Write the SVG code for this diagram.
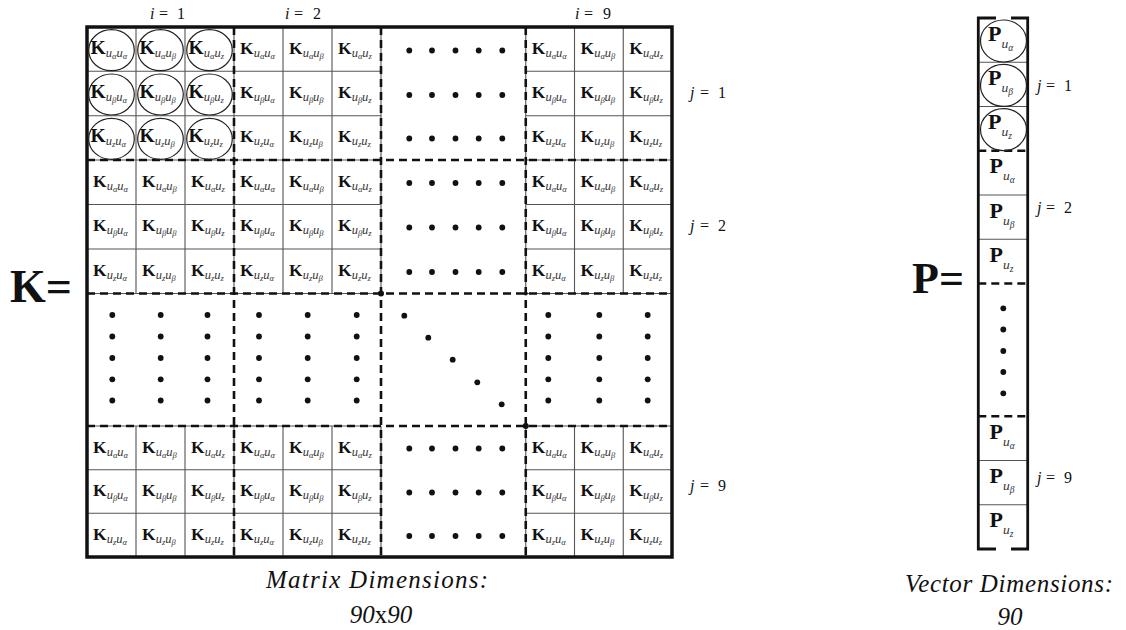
<svg xmlns="http://www.w3.org/2000/svg" width="1126" height="630" viewBox="0 0 1126 630">
<style>
.g{fill:none;stroke:#555;stroke-width:1.1}
.d{fill:none;stroke:#111;stroke-width:2.6;stroke-dasharray:8 5}
.b{fill:none;stroke:#111;stroke-width:3.5}
.e{fill:none;stroke:#222;stroke-width:1.2}
.dot{fill:#111}
text{font-family:"Liberation Serif","Times New Roman",serif;fill:#111}
.k{font-weight:bold;font-size:17.5px}
.kc{font-size:19.5px}
.s{font-style:italic;font-weight:normal;font-size:12.5px;fill:#333}
.t{font-style:italic;font-weight:normal;font-size:8.5px;fill:#333}
.p{font-weight:bold;font-size:22px}
.ps{font-style:italic;font-weight:normal;font-size:13.5px;fill:#333}
.pt{font-style:italic;font-weight:normal;font-size:9.5px;fill:#333}
.m{font-size:16px}
.it{font-style:italic}
.big{font-weight:bold;font-size:46px}
.cap{font-style:italic;font-size:25px}
</style>
<rect width="1126" height="630" fill="#fff"/>

<g id="matrix-K">
<g id="matrix-grid">
<path class="g" d="M136 27V293.5M185 27V293.5M234 27V293.5M283 27V293.5M332 27V293.5M381 27V293.5M525.75 27V293.5M574.5 27V293.5M623.25 27V293.5M136 426V557M185 426V557M234 426V557M283 426V557M332 426V557M381 426V557M525.75 426V557M574.5 426V557M623.25 426V557"/>
<path class="g" d="M87 71.3H381M87 115.7H381M87 160H381M87 204.5H381M87 249H381M87 293.5H381M87 426H381M87 469.7H381M87 513.3H381M525.75 71.3H672M525.75 115.7H672M525.75 160H672M525.75 204.5H672M525.75 249H672M525.75 293.5H672M525.75 426H672M525.75 469.7H672M525.75 513.3H672"/>
<path class="d" d="M234 27V557M381 27V557M525.75 27V557M87 160H672M87 293.5H672M87 426H672"/>
<rect class="b" x="87" y="27" width="585" height="530"/>
<circle class="dot" cx="381" cy="293.5" r="3"/>
<circle class="dot" cx="525.75" cy="293.5" r="2"/>
<circle class="dot" cx="525.75" cy="426" r="3"/>
</g>

<g id="highlight-ellipses">
<ellipse class="e" cx="111.5" cy="50.2" rx="22.8" ry="20.5"/>
<ellipse class="e" cx="160.5" cy="50.2" rx="22.8" ry="20.5"/>
<ellipse class="e" cx="209.5" cy="50.2" rx="22.8" ry="20.5"/>
<ellipse class="e" cx="111.5" cy="94.5" rx="22.8" ry="20.5"/>
<ellipse class="e" cx="160.5" cy="94.5" rx="22.8" ry="20.5"/>
<ellipse class="e" cx="209.5" cy="94.5" rx="22.8" ry="20.5"/>
<ellipse class="e" cx="111.5" cy="138.9" rx="22.8" ry="20.5"/>
<ellipse class="e" cx="160.5" cy="138.9" rx="22.8" ry="20.5"/>
<ellipse class="e" cx="209.5" cy="138.9" rx="22.8" ry="20.5"/>
</g>

<g id="block-i1-j1">
<text class="k kc" x="90.5" y="53.5">K<tspan class="s" dy="3">u</tspan><tspan class="t" dy="2">α</tspan><tspan class="s" dy="-2">u</tspan><tspan class="t" dy="2">α</tspan></text>
<text class="k kc" x="139.5" y="53.5">K<tspan class="s" dy="3">u</tspan><tspan class="t" dy="2">α</tspan><tspan class="s" dy="-2">u</tspan><tspan class="t" dy="2">β</tspan></text>
<text class="k kc" x="188.5" y="53.5">K<tspan class="s" dy="3">u</tspan><tspan class="t" dy="2">α</tspan><tspan class="s" dy="-2">u</tspan><tspan class="t" dy="2">z</tspan></text>
<text class="k kc" x="90.5" y="97.8">K<tspan class="s" dy="3">u</tspan><tspan class="t" dy="2">β</tspan><tspan class="s" dy="-2">u</tspan><tspan class="t" dy="2">α</tspan></text>
<text class="k kc" x="139.5" y="97.8">K<tspan class="s" dy="3">u</tspan><tspan class="t" dy="2">β</tspan><tspan class="s" dy="-2">u</tspan><tspan class="t" dy="2">β</tspan></text>
<text class="k kc" x="188.5" y="97.8">K<tspan class="s" dy="3">u</tspan><tspan class="t" dy="2">β</tspan><tspan class="s" dy="-2">u</tspan><tspan class="t" dy="2">z</tspan></text>
<text class="k kc" x="90.5" y="142.2">K<tspan class="s" dy="3">u</tspan><tspan class="t" dy="2">z</tspan><tspan class="s" dy="-2">u</tspan><tspan class="t" dy="2">α</tspan></text>
<text class="k kc" x="139.5" y="142.2">K<tspan class="s" dy="3">u</tspan><tspan class="t" dy="2">z</tspan><tspan class="s" dy="-2">u</tspan><tspan class="t" dy="2">β</tspan></text>
<text class="k kc" x="188.5" y="142.2">K<tspan class="s" dy="3">u</tspan><tspan class="t" dy="2">z</tspan><tspan class="s" dy="-2">u</tspan><tspan class="t" dy="2">z</tspan></text>
</g>

<g id="block-i2-j1">
<text class="k" x="240" y="53.5">K<tspan class="s" dy="3">u</tspan><tspan class="t" dy="2">α</tspan><tspan class="s" dy="-2">u</tspan><tspan class="t" dy="2">α</tspan></text>
<text class="k" x="289" y="53.5">K<tspan class="s" dy="3">u</tspan><tspan class="t" dy="2">α</tspan><tspan class="s" dy="-2">u</tspan><tspan class="t" dy="2">β</tspan></text>
<text class="k" x="338" y="53.5">K<tspan class="s" dy="3">u</tspan><tspan class="t" dy="2">α</tspan><tspan class="s" dy="-2">u</tspan><tspan class="t" dy="2">z</tspan></text>
<text class="k" x="240" y="97.8">K<tspan class="s" dy="3">u</tspan><tspan class="t" dy="2">β</tspan><tspan class="s" dy="-2">u</tspan><tspan class="t" dy="2">α</tspan></text>
<text class="k" x="289" y="97.8">K<tspan class="s" dy="3">u</tspan><tspan class="t" dy="2">β</tspan><tspan class="s" dy="-2">u</tspan><tspan class="t" dy="2">β</tspan></text>
<text class="k" x="338" y="97.8">K<tspan class="s" dy="3">u</tspan><tspan class="t" dy="2">β</tspan><tspan class="s" dy="-2">u</tspan><tspan class="t" dy="2">z</tspan></text>
<text class="k" x="240" y="142.2">K<tspan class="s" dy="3">u</tspan><tspan class="t" dy="2">z</tspan><tspan class="s" dy="-2">u</tspan><tspan class="t" dy="2">α</tspan></text>
<text class="k" x="289" y="142.2">K<tspan class="s" dy="3">u</tspan><tspan class="t" dy="2">z</tspan><tspan class="s" dy="-2">u</tspan><tspan class="t" dy="2">β</tspan></text>
<text class="k" x="338" y="142.2">K<tspan class="s" dy="3">u</tspan><tspan class="t" dy="2">z</tspan><tspan class="s" dy="-2">u</tspan><tspan class="t" dy="2">z</tspan></text>
</g>

<g id="block-i9-j1">
<text class="k" x="531.75" y="53.5">K<tspan class="s" dy="3">u</tspan><tspan class="t" dy="2">α</tspan><tspan class="s" dy="-2">u</tspan><tspan class="t" dy="2">α</tspan></text>
<text class="k" x="580.5" y="53.5">K<tspan class="s" dy="3">u</tspan><tspan class="t" dy="2">α</tspan><tspan class="s" dy="-2">u</tspan><tspan class="t" dy="2">β</tspan></text>
<text class="k" x="629.25" y="53.5">K<tspan class="s" dy="3">u</tspan><tspan class="t" dy="2">α</tspan><tspan class="s" dy="-2">u</tspan><tspan class="t" dy="2">z</tspan></text>
<text class="k" x="531.75" y="97.8">K<tspan class="s" dy="3">u</tspan><tspan class="t" dy="2">β</tspan><tspan class="s" dy="-2">u</tspan><tspan class="t" dy="2">α</tspan></text>
<text class="k" x="580.5" y="97.8">K<tspan class="s" dy="3">u</tspan><tspan class="t" dy="2">β</tspan><tspan class="s" dy="-2">u</tspan><tspan class="t" dy="2">β</tspan></text>
<text class="k" x="629.25" y="97.8">K<tspan class="s" dy="3">u</tspan><tspan class="t" dy="2">β</tspan><tspan class="s" dy="-2">u</tspan><tspan class="t" dy="2">z</tspan></text>
<text class="k" x="531.75" y="142.2">K<tspan class="s" dy="3">u</tspan><tspan class="t" dy="2">z</tspan><tspan class="s" dy="-2">u</tspan><tspan class="t" dy="2">α</tspan></text>
<text class="k" x="580.5" y="142.2">K<tspan class="s" dy="3">u</tspan><tspan class="t" dy="2">z</tspan><tspan class="s" dy="-2">u</tspan><tspan class="t" dy="2">β</tspan></text>
<text class="k" x="629.25" y="142.2">K<tspan class="s" dy="3">u</tspan><tspan class="t" dy="2">z</tspan><tspan class="s" dy="-2">u</tspan><tspan class="t" dy="2">z</tspan></text>
</g>

<g id="block-i1-j2">
<text class="k" x="93" y="186.5">K<tspan class="s" dy="3">u</tspan><tspan class="t" dy="2">α</tspan><tspan class="s" dy="-2">u</tspan><tspan class="t" dy="2">α</tspan></text>
<text class="k" x="142" y="186.5">K<tspan class="s" dy="3">u</tspan><tspan class="t" dy="2">α</tspan><tspan class="s" dy="-2">u</tspan><tspan class="t" dy="2">β</tspan></text>
<text class="k" x="191" y="186.5">K<tspan class="s" dy="3">u</tspan><tspan class="t" dy="2">α</tspan><tspan class="s" dy="-2">u</tspan><tspan class="t" dy="2">z</tspan></text>
<text class="k" x="93" y="231">K<tspan class="s" dy="3">u</tspan><tspan class="t" dy="2">β</tspan><tspan class="s" dy="-2">u</tspan><tspan class="t" dy="2">α</tspan></text>
<text class="k" x="142" y="231">K<tspan class="s" dy="3">u</tspan><tspan class="t" dy="2">β</tspan><tspan class="s" dy="-2">u</tspan><tspan class="t" dy="2">β</tspan></text>
<text class="k" x="191" y="231">K<tspan class="s" dy="3">u</tspan><tspan class="t" dy="2">β</tspan><tspan class="s" dy="-2">u</tspan><tspan class="t" dy="2">z</tspan></text>
<text class="k" x="93" y="275.5">K<tspan class="s" dy="3">u</tspan><tspan class="t" dy="2">z</tspan><tspan class="s" dy="-2">u</tspan><tspan class="t" dy="2">α</tspan></text>
<text class="k" x="142" y="275.5">K<tspan class="s" dy="3">u</tspan><tspan class="t" dy="2">z</tspan><tspan class="s" dy="-2">u</tspan><tspan class="t" dy="2">β</tspan></text>
<text class="k" x="191" y="275.5">K<tspan class="s" dy="3">u</tspan><tspan class="t" dy="2">z</tspan><tspan class="s" dy="-2">u</tspan><tspan class="t" dy="2">z</tspan></text>
</g>

<g id="block-i2-j2">
<text class="k" x="240" y="186.5">K<tspan class="s" dy="3">u</tspan><tspan class="t" dy="2">α</tspan><tspan class="s" dy="-2">u</tspan><tspan class="t" dy="2">α</tspan></text>
<text class="k" x="289" y="186.5">K<tspan class="s" dy="3">u</tspan><tspan class="t" dy="2">α</tspan><tspan class="s" dy="-2">u</tspan><tspan class="t" dy="2">β</tspan></text>
<text class="k" x="338" y="186.5">K<tspan class="s" dy="3">u</tspan><tspan class="t" dy="2">α</tspan><tspan class="s" dy="-2">u</tspan><tspan class="t" dy="2">z</tspan></text>
<text class="k" x="240" y="231">K<tspan class="s" dy="3">u</tspan><tspan class="t" dy="2">β</tspan><tspan class="s" dy="-2">u</tspan><tspan class="t" dy="2">α</tspan></text>
<text class="k" x="289" y="231">K<tspan class="s" dy="3">u</tspan><tspan class="t" dy="2">β</tspan><tspan class="s" dy="-2">u</tspan><tspan class="t" dy="2">β</tspan></text>
<text class="k" x="338" y="231">K<tspan class="s" dy="3">u</tspan><tspan class="t" dy="2">β</tspan><tspan class="s" dy="-2">u</tspan><tspan class="t" dy="2">z</tspan></text>
<text class="k" x="240" y="275.5">K<tspan class="s" dy="3">u</tspan><tspan class="t" dy="2">z</tspan><tspan class="s" dy="-2">u</tspan><tspan class="t" dy="2">α</tspan></text>
<text class="k" x="289" y="275.5">K<tspan class="s" dy="3">u</tspan><tspan class="t" dy="2">z</tspan><tspan class="s" dy="-2">u</tspan><tspan class="t" dy="2">β</tspan></text>
<text class="k" x="338" y="275.5">K<tspan class="s" dy="3">u</tspan><tspan class="t" dy="2">z</tspan><tspan class="s" dy="-2">u</tspan><tspan class="t" dy="2">z</tspan></text>
</g>

<g id="block-i9-j2">
<text class="k" x="531.75" y="186.5">K<tspan class="s" dy="3">u</tspan><tspan class="t" dy="2">α</tspan><tspan class="s" dy="-2">u</tspan><tspan class="t" dy="2">α</tspan></text>
<text class="k" x="580.5" y="186.5">K<tspan class="s" dy="3">u</tspan><tspan class="t" dy="2">α</tspan><tspan class="s" dy="-2">u</tspan><tspan class="t" dy="2">β</tspan></text>
<text class="k" x="629.25" y="186.5">K<tspan class="s" dy="3">u</tspan><tspan class="t" dy="2">α</tspan><tspan class="s" dy="-2">u</tspan><tspan class="t" dy="2">z</tspan></text>
<text class="k" x="531.75" y="231">K<tspan class="s" dy="3">u</tspan><tspan class="t" dy="2">β</tspan><tspan class="s" dy="-2">u</tspan><tspan class="t" dy="2">α</tspan></text>
<text class="k" x="580.5" y="231">K<tspan class="s" dy="3">u</tspan><tspan class="t" dy="2">β</tspan><tspan class="s" dy="-2">u</tspan><tspan class="t" dy="2">β</tspan></text>
<text class="k" x="629.25" y="231">K<tspan class="s" dy="3">u</tspan><tspan class="t" dy="2">β</tspan><tspan class="s" dy="-2">u</tspan><tspan class="t" dy="2">z</tspan></text>
<text class="k" x="531.75" y="275.5">K<tspan class="s" dy="3">u</tspan><tspan class="t" dy="2">z</tspan><tspan class="s" dy="-2">u</tspan><tspan class="t" dy="2">α</tspan></text>
<text class="k" x="580.5" y="275.5">K<tspan class="s" dy="3">u</tspan><tspan class="t" dy="2">z</tspan><tspan class="s" dy="-2">u</tspan><tspan class="t" dy="2">β</tspan></text>
<text class="k" x="629.25" y="275.5">K<tspan class="s" dy="3">u</tspan><tspan class="t" dy="2">z</tspan><tspan class="s" dy="-2">u</tspan><tspan class="t" dy="2">z</tspan></text>
</g>

<g id="block-i1-j9">
<text class="k" x="93" y="452.5">K<tspan class="s" dy="3">u</tspan><tspan class="t" dy="2">α</tspan><tspan class="s" dy="-2">u</tspan><tspan class="t" dy="2">α</tspan></text>
<text class="k" x="142" y="452.5">K<tspan class="s" dy="3">u</tspan><tspan class="t" dy="2">α</tspan><tspan class="s" dy="-2">u</tspan><tspan class="t" dy="2">β</tspan></text>
<text class="k" x="191" y="452.5">K<tspan class="s" dy="3">u</tspan><tspan class="t" dy="2">α</tspan><tspan class="s" dy="-2">u</tspan><tspan class="t" dy="2">z</tspan></text>
<text class="k" x="93" y="496.2">K<tspan class="s" dy="3">u</tspan><tspan class="t" dy="2">β</tspan><tspan class="s" dy="-2">u</tspan><tspan class="t" dy="2">α</tspan></text>
<text class="k" x="142" y="496.2">K<tspan class="s" dy="3">u</tspan><tspan class="t" dy="2">β</tspan><tspan class="s" dy="-2">u</tspan><tspan class="t" dy="2">β</tspan></text>
<text class="k" x="191" y="496.2">K<tspan class="s" dy="3">u</tspan><tspan class="t" dy="2">β</tspan><tspan class="s" dy="-2">u</tspan><tspan class="t" dy="2">z</tspan></text>
<text class="k" x="93" y="539.8">K<tspan class="s" dy="3">u</tspan><tspan class="t" dy="2">z</tspan><tspan class="s" dy="-2">u</tspan><tspan class="t" dy="2">α</tspan></text>
<text class="k" x="142" y="539.8">K<tspan class="s" dy="3">u</tspan><tspan class="t" dy="2">z</tspan><tspan class="s" dy="-2">u</tspan><tspan class="t" dy="2">β</tspan></text>
<text class="k" x="191" y="539.8">K<tspan class="s" dy="3">u</tspan><tspan class="t" dy="2">z</tspan><tspan class="s" dy="-2">u</tspan><tspan class="t" dy="2">z</tspan></text>
</g>

<g id="block-i2-j9">
<text class="k" x="240" y="452.5">K<tspan class="s" dy="3">u</tspan><tspan class="t" dy="2">α</tspan><tspan class="s" dy="-2">u</tspan><tspan class="t" dy="2">α</tspan></text>
<text class="k" x="289" y="452.5">K<tspan class="s" dy="3">u</tspan><tspan class="t" dy="2">α</tspan><tspan class="s" dy="-2">u</tspan><tspan class="t" dy="2">β</tspan></text>
<text class="k" x="338" y="452.5">K<tspan class="s" dy="3">u</tspan><tspan class="t" dy="2">α</tspan><tspan class="s" dy="-2">u</tspan><tspan class="t" dy="2">z</tspan></text>
<text class="k" x="240" y="496.2">K<tspan class="s" dy="3">u</tspan><tspan class="t" dy="2">β</tspan><tspan class="s" dy="-2">u</tspan><tspan class="t" dy="2">α</tspan></text>
<text class="k" x="289" y="496.2">K<tspan class="s" dy="3">u</tspan><tspan class="t" dy="2">β</tspan><tspan class="s" dy="-2">u</tspan><tspan class="t" dy="2">β</tspan></text>
<text class="k" x="338" y="496.2">K<tspan class="s" dy="3">u</tspan><tspan class="t" dy="2">β</tspan><tspan class="s" dy="-2">u</tspan><tspan class="t" dy="2">z</tspan></text>
<text class="k" x="240" y="539.8">K<tspan class="s" dy="3">u</tspan><tspan class="t" dy="2">z</tspan><tspan class="s" dy="-2">u</tspan><tspan class="t" dy="2">α</tspan></text>
<text class="k" x="289" y="539.8">K<tspan class="s" dy="3">u</tspan><tspan class="t" dy="2">z</tspan><tspan class="s" dy="-2">u</tspan><tspan class="t" dy="2">β</tspan></text>
<text class="k" x="338" y="539.8">K<tspan class="s" dy="3">u</tspan><tspan class="t" dy="2">z</tspan><tspan class="s" dy="-2">u</tspan><tspan class="t" dy="2">z</tspan></text>
</g>

<g id="block-i9-j9">
<text class="k" x="531.75" y="452.5">K<tspan class="s" dy="3">u</tspan><tspan class="t" dy="2">α</tspan><tspan class="s" dy="-2">u</tspan><tspan class="t" dy="2">α</tspan></text>
<text class="k" x="580.5" y="452.5">K<tspan class="s" dy="3">u</tspan><tspan class="t" dy="2">α</tspan><tspan class="s" dy="-2">u</tspan><tspan class="t" dy="2">β</tspan></text>
<text class="k" x="629.25" y="452.5">K<tspan class="s" dy="3">u</tspan><tspan class="t" dy="2">α</tspan><tspan class="s" dy="-2">u</tspan><tspan class="t" dy="2">z</tspan></text>
<text class="k" x="531.75" y="496.2">K<tspan class="s" dy="3">u</tspan><tspan class="t" dy="2">β</tspan><tspan class="s" dy="-2">u</tspan><tspan class="t" dy="2">α</tspan></text>
<text class="k" x="580.5" y="496.2">K<tspan class="s" dy="3">u</tspan><tspan class="t" dy="2">β</tspan><tspan class="s" dy="-2">u</tspan><tspan class="t" dy="2">β</tspan></text>
<text class="k" x="629.25" y="496.2">K<tspan class="s" dy="3">u</tspan><tspan class="t" dy="2">β</tspan><tspan class="s" dy="-2">u</tspan><tspan class="t" dy="2">z</tspan></text>
<text class="k" x="531.75" y="539.8">K<tspan class="s" dy="3">u</tspan><tspan class="t" dy="2">z</tspan><tspan class="s" dy="-2">u</tspan><tspan class="t" dy="2">α</tspan></text>
<text class="k" x="580.5" y="539.8">K<tspan class="s" dy="3">u</tspan><tspan class="t" dy="2">z</tspan><tspan class="s" dy="-2">u</tspan><tspan class="t" dy="2">β</tspan></text>
<text class="k" x="629.25" y="539.8">K<tspan class="s" dy="3">u</tspan><tspan class="t" dy="2">z</tspan><tspan class="s" dy="-2">u</tspan><tspan class="t" dy="2">z</tspan></text>
</g>

<g id="ellipsis-dots" class="dot">
<circle cx="409.3" cy="50.5" r="2.9"/><circle cx="432" cy="50.5" r="2.9"/><circle cx="455.5" cy="50.5" r="2.9"/><circle cx="478.7" cy="50.5" r="2.9"/><circle cx="502.3" cy="50.5" r="2.9"/>
<circle cx="409.3" cy="95" r="2.9"/><circle cx="432" cy="95" r="2.9"/><circle cx="455.5" cy="95" r="2.9"/><circle cx="478.7" cy="95" r="2.9"/><circle cx="502.3" cy="95" r="2.9"/>
<circle cx="409.3" cy="138.5" r="2.9"/><circle cx="432" cy="138.5" r="2.9"/><circle cx="455.5" cy="138.5" r="2.9"/><circle cx="478.7" cy="138.5" r="2.9"/><circle cx="502.3" cy="138.5" r="2.9"/>
<circle cx="409.3" cy="183" r="2.9"/><circle cx="432" cy="183" r="2.9"/><circle cx="455.5" cy="183" r="2.9"/><circle cx="478.7" cy="183" r="2.9"/><circle cx="502.3" cy="183" r="2.9"/>
<circle cx="409.3" cy="227.5" r="2.9"/><circle cx="432" cy="227.5" r="2.9"/><circle cx="455.5" cy="227.5" r="2.9"/><circle cx="478.7" cy="227.5" r="2.9"/><circle cx="502.3" cy="227.5" r="2.9"/>
<circle cx="409.3" cy="272" r="2.9"/><circle cx="432" cy="272" r="2.9"/><circle cx="455.5" cy="272" r="2.9"/><circle cx="478.7" cy="272" r="2.9"/><circle cx="502.3" cy="272" r="2.9"/>
<circle cx="409.3" cy="448.5" r="2.9"/><circle cx="432" cy="448.5" r="2.9"/><circle cx="455.5" cy="448.5" r="2.9"/><circle cx="478.7" cy="448.5" r="2.9"/><circle cx="502.3" cy="448.5" r="2.9"/>
<circle cx="409.3" cy="492.5" r="2.9"/><circle cx="432" cy="492.5" r="2.9"/><circle cx="455.5" cy="492.5" r="2.9"/><circle cx="478.7" cy="492.5" r="2.9"/><circle cx="502.3" cy="492.5" r="2.9"/>
<circle cx="409.3" cy="536" r="2.9"/><circle cx="432" cy="536" r="2.9"/><circle cx="455.5" cy="536" r="2.9"/><circle cx="478.7" cy="536" r="2.9"/><circle cx="502.3" cy="536" r="2.9"/>
<circle cx="112.3" cy="315" r="2.9"/><circle cx="112.3" cy="336.5" r="2.9"/><circle cx="112.3" cy="358" r="2.9"/><circle cx="112.3" cy="379.3" r="2.9"/><circle cx="112.3" cy="400.5" r="2.9"/>
<circle cx="160.7" cy="315" r="2.9"/><circle cx="160.7" cy="336.5" r="2.9"/><circle cx="160.7" cy="358" r="2.9"/><circle cx="160.7" cy="379.3" r="2.9"/><circle cx="160.7" cy="400.5" r="2.9"/>
<circle cx="207.5" cy="315" r="2.9"/><circle cx="207.5" cy="336.5" r="2.9"/><circle cx="207.5" cy="358" r="2.9"/><circle cx="207.5" cy="379.3" r="2.9"/><circle cx="207.5" cy="400.5" r="2.9"/>
<circle cx="259" cy="315" r="2.9"/><circle cx="259" cy="336.5" r="2.9"/><circle cx="259" cy="358" r="2.9"/><circle cx="259" cy="379.3" r="2.9"/><circle cx="259" cy="400.5" r="2.9"/>
<circle cx="307.7" cy="315" r="2.9"/><circle cx="307.7" cy="336.5" r="2.9"/><circle cx="307.7" cy="358" r="2.9"/><circle cx="307.7" cy="379.3" r="2.9"/><circle cx="307.7" cy="400.5" r="2.9"/>
<circle cx="356.7" cy="315" r="2.9"/><circle cx="356.7" cy="336.5" r="2.9"/><circle cx="356.7" cy="358" r="2.9"/><circle cx="356.7" cy="379.3" r="2.9"/><circle cx="356.7" cy="400.5" r="2.9"/>
<circle cx="548.3" cy="315" r="2.9"/><circle cx="548.3" cy="336.5" r="2.9"/><circle cx="548.3" cy="358" r="2.9"/><circle cx="548.3" cy="379.3" r="2.9"/><circle cx="548.3" cy="400.5" r="2.9"/>
<circle cx="599.3" cy="315" r="2.9"/><circle cx="599.3" cy="336.5" r="2.9"/><circle cx="599.3" cy="358" r="2.9"/><circle cx="599.3" cy="379.3" r="2.9"/><circle cx="599.3" cy="400.5" r="2.9"/>
<circle cx="647.7" cy="315" r="2.9"/><circle cx="647.7" cy="336.5" r="2.9"/><circle cx="647.7" cy="358" r="2.9"/><circle cx="647.7" cy="379.3" r="2.9"/><circle cx="647.7" cy="400.5" r="2.9"/>
<circle cx="404.3" cy="315.7" r="2.9"/><circle cx="428.3" cy="337.7" r="2.9"/><circle cx="452.7" cy="359.7" r="2.9"/><circle cx="477.3" cy="382.3" r="2.9"/><circle cx="501.7" cy="404.3" r="2.9"/>
</g>
</g>

<g id="matrix-labels" class="m">
<text y="19"><tspan class="it" x="150">i</tspan><tspan x="159">=</tspan><tspan x="177">1</tspan></text>
<text y="19"><tspan class="it" x="285">i</tspan><tspan x="294">=</tspan><tspan x="313">2</tspan></text>
<text y="19"><tspan class="it" x="575">i</tspan><tspan x="584">=</tspan><tspan x="603">9</tspan></text>
<text y="97.5"><tspan class="it" x="690">j</tspan><tspan x="700">=</tspan><tspan x="718">1</tspan></text>
<text y="230.5"><tspan class="it" x="690">j</tspan><tspan x="700">=</tspan><tspan x="718">2</tspan></text>
<text y="491"><tspan class="it" x="690">j</tspan><tspan x="700">=</tspan><tspan x="718">9</tspan></text>
</g>

<text id="K-equals" class="big" x="10" y="302">K=</text>

<g id="vector-P">
<path class="g" d="M978.3 62.25H1027.7M978.3 106.5H1027.7M978.3 195H1027.7M978.3 239.25H1027.7M978.3 460.5H1027.7M978.3 504.75H1027.7"/>
<path class="d" d="M978.3 150.75H1027.7M978.3 283.5H1027.7M978.3 416.25H1027.7"/>
<path fill="none" stroke="#111" stroke-width="2.8" d="M996 18H978.3V549H996M1011 18H1027.7V549H1011"/>
<ellipse class="e" cx="1003.5" cy="41" rx="23" ry="21"/>
<ellipse class="e" cx="1003.5" cy="85.4" rx="23" ry="21"/>
<ellipse class="e" cx="1003.5" cy="129.6" rx="23" ry="21"/>
<text class="p" x="988" y="40.5">P<tspan class="ps" dy="7">u</tspan><tspan class="pt" dy="3">α</tspan></text>
<text class="p" x="988" y="84.8">P<tspan class="ps" dy="7">u</tspan><tspan class="pt" dy="3">β</tspan></text>
<text class="p" x="988" y="129">P<tspan class="ps" dy="7">u</tspan><tspan class="pt" dy="3">z</tspan></text>
<text class="p" x="989.5" y="173.2">P<tspan class="ps" dy="7">u</tspan><tspan class="pt" dy="3">α</tspan></text>
<text class="p" x="989.5" y="217.5">P<tspan class="ps" dy="7">u</tspan><tspan class="pt" dy="3">β</tspan></text>
<text class="p" x="989.5" y="261.7">P<tspan class="ps" dy="7">u</tspan><tspan class="pt" dy="3">z</tspan></text>
<text class="p" x="989.5" y="438.7">P<tspan class="ps" dy="7">u</tspan><tspan class="pt" dy="3">α</tspan></text>
<text class="p" x="989.5" y="483">P<tspan class="ps" dy="7">u</tspan><tspan class="pt" dy="3">β</tspan></text>
<text class="p" x="989.5" y="527.2">P<tspan class="ps" dy="7">u</tspan><tspan class="pt" dy="3">z</tspan></text>
<g class="dot">
<circle cx="1003.3" cy="308.3" r="2.9"/><circle cx="1003.3" cy="329.5" r="2.9"/><circle cx="1003.3" cy="351" r="2.9"/><circle cx="1003.3" cy="372" r="2.9"/><circle cx="1003.3" cy="393.3" r="2.9"/>
</g>
</g>

<g id="vector-labels" class="m">
<text y="91"><tspan class="it" x="1037">j</tspan><tspan x="1046">=</tspan><tspan x="1064">1</tspan></text>
<text y="213"><tspan class="it" x="1037">j</tspan><tspan x="1046">=</tspan><tspan x="1064">2</tspan></text>
<text y="483"><tspan class="it" x="1037">j</tspan><tspan x="1046">=</tspan><tspan x="1064">9</tspan></text>
</g>

<text id="P-equals" class="big" x="912" y="292.5" style="font-size:44px">P=</text>

<g id="captions">
<text class="cap" x="377" y="588" text-anchor="middle" textLength="222" lengthAdjust="spacing">Matrix Dimensions:</text>
<text class="cap" x="381" y="623" text-anchor="middle">90<tspan style="font-style:normal">x</tspan>90</text>
<text class="cap" x="1009" y="592" text-anchor="middle" textLength="208" lengthAdjust="spacing">Vector Dimensions:</text>
<text class="cap" x="1010" y="625" text-anchor="middle">90</text>
</g>
</svg>
